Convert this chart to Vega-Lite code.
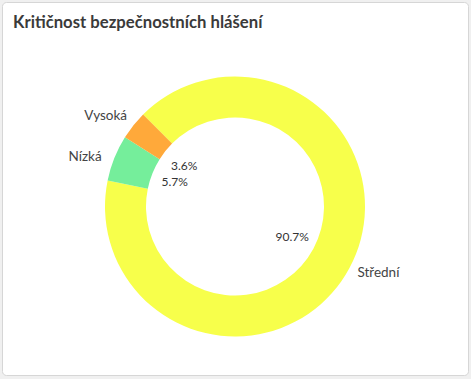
{
  "$schema": "https://vega.github.io/schema/vega-lite/v6.json",
  "width": 471,
  "height": 379,
  "autosize": {"type": "fit", "contains": "padding"},
  "padding": {"left": 2, "top": 2, "right": 3, "bottom": 4},
  "background": "#f0f0f0",
  "view": {"fill": "white", "stroke": "#d6d6d6", "strokeWidth": 1, "cornerRadius": 4},
  "config": {"font": "Lato"},
  "title": {
    "text": "Kritičnost bezpečnostních hlášení",
    "anchor": "start",
    "orient": "top",
    "offset": -43,
    "dx": 11,
    "baseline": "alphabetic",
    "font": "Lato",
    "fontSize": 16.7,
    "fontWeight": "bold",
    "color": "#3a3a3a"
  },
  "data": {
    "values": [
      {"kategorie": "Střední", "pocet": 127, "podil": "90.7%", "ord": 1},
      {"kategorie": "Nízká", "pocet": 8, "podil": "5.7%", "ord": 2},
      {"kategorie": "Vysoká", "pocet": 5, "podil": "3.6%", "ord": 3}
    ]
  },
  "resolve": {"scale": {"theta": "independent"}},
  "layer": [
    {
      "mark": {"type": "arc", "radius": 130, "radius2": 89, "yOffset": 18},
      "encoding": {
        "theta": {"field": "pocet", "type": "quantitative", "stack": true, "scale": {"range": [-0.7854, 5.4978]}},
        "order": {"field": "ord", "type": "quantitative"},
        "color": {
          "field": "kategorie",
          "type": "nominal",
          "scale": {"domain": ["Střední", "Nízká", "Vysoká"], "range": ["#f7ff4b", "#75ee9b", "#ffa93a"]},
          "legend": null
        }
      }
    },
    {
      "mark": {"type": "text", "radius": 65, "yOffset": 18, "fontSize": 12, "color": "#333333"},
      "encoding": {
        "theta": {"field": "pocet", "type": "quantitative", "stack": true, "scale": {"range": [-0.7854, 5.4978]}},
        "order": {"field": "ord", "type": "quantitative"},
        "text": {"field": "podil", "type": "nominal"}
      }
    },
    {
      "mark": {"type": "text", "radius": 158, "yOffset": 18, "fontSize": 13.5, "color": "#444444"},
      "encoding": {
        "theta": {"field": "pocet", "type": "quantitative", "stack": true, "scale": {"range": [-0.846, 5.437]}},
        "order": {"field": "ord", "type": "quantitative"},
        "text": {"field": "kategorie", "type": "nominal"}
      }
    }
  ]
}
